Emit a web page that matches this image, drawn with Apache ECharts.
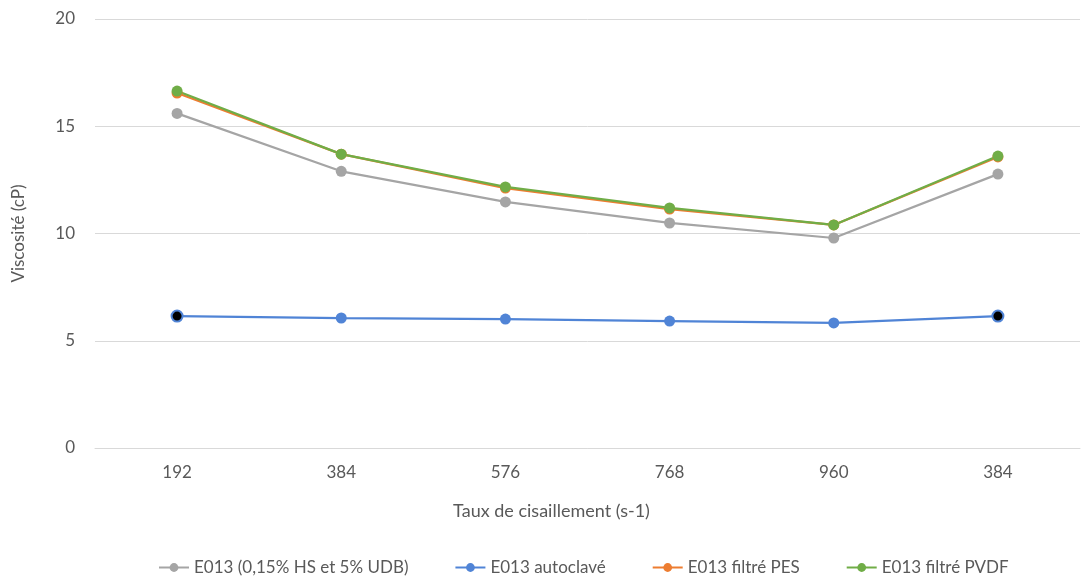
<!DOCTYPE html>
<html><head><meta charset="utf-8">
<script src="https://cdn.jsdelivr.net/npm/echarts@6/dist/echarts.min.js"></script>
<style>html,body{margin:0;padding:0;background:#fff}#c{width:1082px;height:577px}</style>
</head><body><div id="c"></div>
<script>
const categories = ['192','384','576','768','960','384'];
const yTicks = [0,5,10,15,20];
const seriesNames = ['E013 (0,15% HS et 5% UDB)','E013 autoclavé','E013 filtré PES','E013 filtré PVDF'];
const grayVals = [15.6, 12.9, 11.47, 10.49, 9.79, 12.77];
const blueVals = [6.15, 6.06, 6.01, 5.92, 5.83, 6.15];
const orangeVals = [16.55, 13.7, 12.12, 11.14, 10.4, 13.57];
const greenVals = [16.64, 13.7, 12.17, 11.19, 10.4, 13.61];
const blackMarkerIdx = [0, 5];

const colors = ['#A5A5A5','#5084D6','#ED7D31','#70AD47'];
const font = 'Lato, "Open Sans", sans-serif';
const txt = '#595959';

function mk(name, vals, color, blackIdx){
  return {
    name, type:'line', data: vals.map((v,i)=> (blackIdx && blackIdx.includes(i)) ?
      {value:v, itemStyle:{color:'#000', borderColor:color, borderWidth:2}} : v),
    symbol:'circle', symbolSize:11, showSymbol:true,
    lineStyle:{color, width:2.25}, itemStyle:{color, borderColor:color, borderWidth:0},
    emphasis:{disabled:true}, animation:false
  };
}

const chart = echarts.init(document.getElementById('c'));
chart.setOption({
  animation:false,
  color: colors,
  grid:{left:95, right:2, top:19, bottom:129, containLabel:false},
  legend:{
    top:554, left:153, itemWidth:30, itemHeight:11, itemGap:46,
    textStyle:{color:txt, fontSize:17, fontFamily:font},
    data: seriesNames
  },
  xAxis:{
    type:'category', data: categories, boundaryGap:true,
    axisLine:{show:true, lineStyle:{color:'#D9D9D9'}}, axisTick:{show:false},
    axisLabel:{color:txt, fontSize:17, fontFamily:font, margin:16},
    name:'Taux de cisaillement (s-1)', nameLocation:'middle', nameGap:54,
    nameTextStyle:{color:txt, fontSize:18, fontFamily:font, padding:[0,72,0,0]}
  },
  yAxis:{
    type:'value', min:0, max:20, interval:5,
    axisLine:{show:false}, axisTick:{show:false},
    splitLine:{lineStyle:{color:'#D9D9D9', width:1}},
    axisLabel:{color:txt, fontSize:17, fontFamily:font, margin:20,
      formatter:v=> yTicks.includes(v) ? String(v) : ''},
    name:'Viscosité (cP)', nameLocation:'middle', nameGap:68, nameRotate:90,
    nameTextStyle:{color:txt, fontSize:17, fontFamily:font}
  },
  series:[
    mk(seriesNames[0], grayVals, colors[0]),
    mk(seriesNames[1], blueVals, colors[1], blackMarkerIdx),
    mk(seriesNames[2], orangeVals, colors[2]),
    mk(seriesNames[3], greenVals, colors[3])
  ]
});
</script></body></html>
